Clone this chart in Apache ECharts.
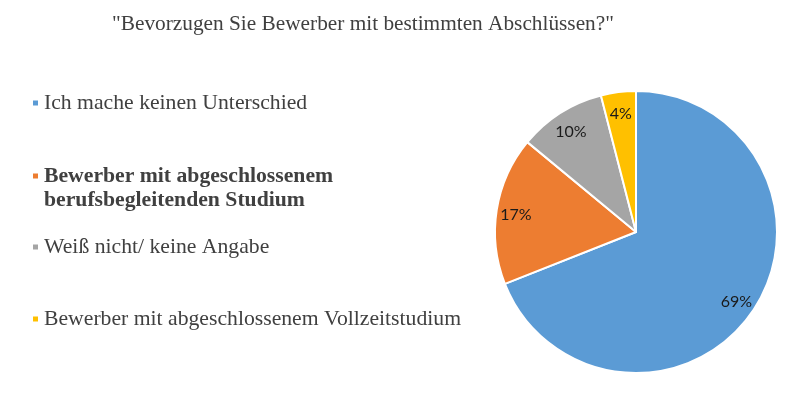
<!DOCTYPE html>
<html><head><meta charset="utf-8">
<script src="https://cdn.jsdelivr.net/npm/echarts@6/dist/echarts.min.js"></script>
<style>html,body{margin:0;padding:0;background:#fff}#c{width:800px;height:398px}</style>
</head><body><div id="c"></div>
<script>
var titleText = '"Bevorzugen Sie Bewerber mit bestimmten Abschlüssen?"';
var categories = ['Ich mache keinen Unterschied', 'Bewerber mit abgeschlossenem berufsbegleitenden Studium', 'Weiß nicht/ keine Angabe', 'Bewerber mit abgeschlossenem Vollzeitstudium'];
var legendLabels = ['Ich mache keinen Unterschied', ' \nBewerber mit abgeschlossenem\nberufsbegleitenden Studium', 'Weiß nicht/ keine Angabe', 'Bewerber mit abgeschlossenem Vollzeitstudium'];
var values = [69, 17, 10, 4];
var colors = ['#5B9BD5', '#ED7D31', '#A5A5A5', '#FFC000'];

var chart = echarts.init(document.getElementById('c'), null, {renderer: 'canvas'});
var data = categories.map(function (c, i) { return {name: c, value: values[i], itemStyle: {color: colors[i]}}; });
var labelData = categories.map(function (c, i) { return {name: c, value: values[i]}; });

var legendTops = [92, 140, 236, 308];
var legends = categories.map(function (c, i) {
  var ts = {fontFamily: 'Liberation Serif', fontSize: 21.7, color: '#404040'};
  if (i === 1) { ts.fontWeight = 'bold'; ts.lineHeight = 24; }
  return {
    left: 31, top: legendTops[i], orient: 'vertical', padding: 0,
    icon: 'rect', itemWidth: 7, itemHeight: 7,
    selectedMode: false,
    data: [{name: c, textStyle: ts}],
    formatter: function () { return legendLabels[i]; },
    textStyle: ts
  };
});

chart.setOption({
  animation: false,
  title: {
    text: titleText, left: 358, top: 9, textAlign: 'center',
    textStyle: {fontFamily: 'Liberation Serif', fontSize: 21.3, fontWeight: 'normal', color: '#404040'}
  },
  legend: legends,
  series: [
    {
      type: 'pie', center: [636, 232], radius: [0, 141], startAngle: 90, clockwise: true,
      data: data,
      itemStyle: {borderColor: '#fff', borderWidth: 2},
      label: {show: false}, labelLine: {show: false}, silent: true
    },
    {
      type: 'pie', center: [636, 232], radius: [96, 141], startAngle: 90, clockwise: true,
      data: labelData, silent: true, z: 5,
      itemStyle: {color: 'rgba(0,0,0,0)', borderWidth: 0},
      label: {show: true, position: 'inside', formatter: '{c}%', fontFamily: 'Lato', fontSize: 16, color: '#1a1a1a', offset: [0, 2]},
      labelLine: {show: false}
    }
  ]
});
</script></body></html>
